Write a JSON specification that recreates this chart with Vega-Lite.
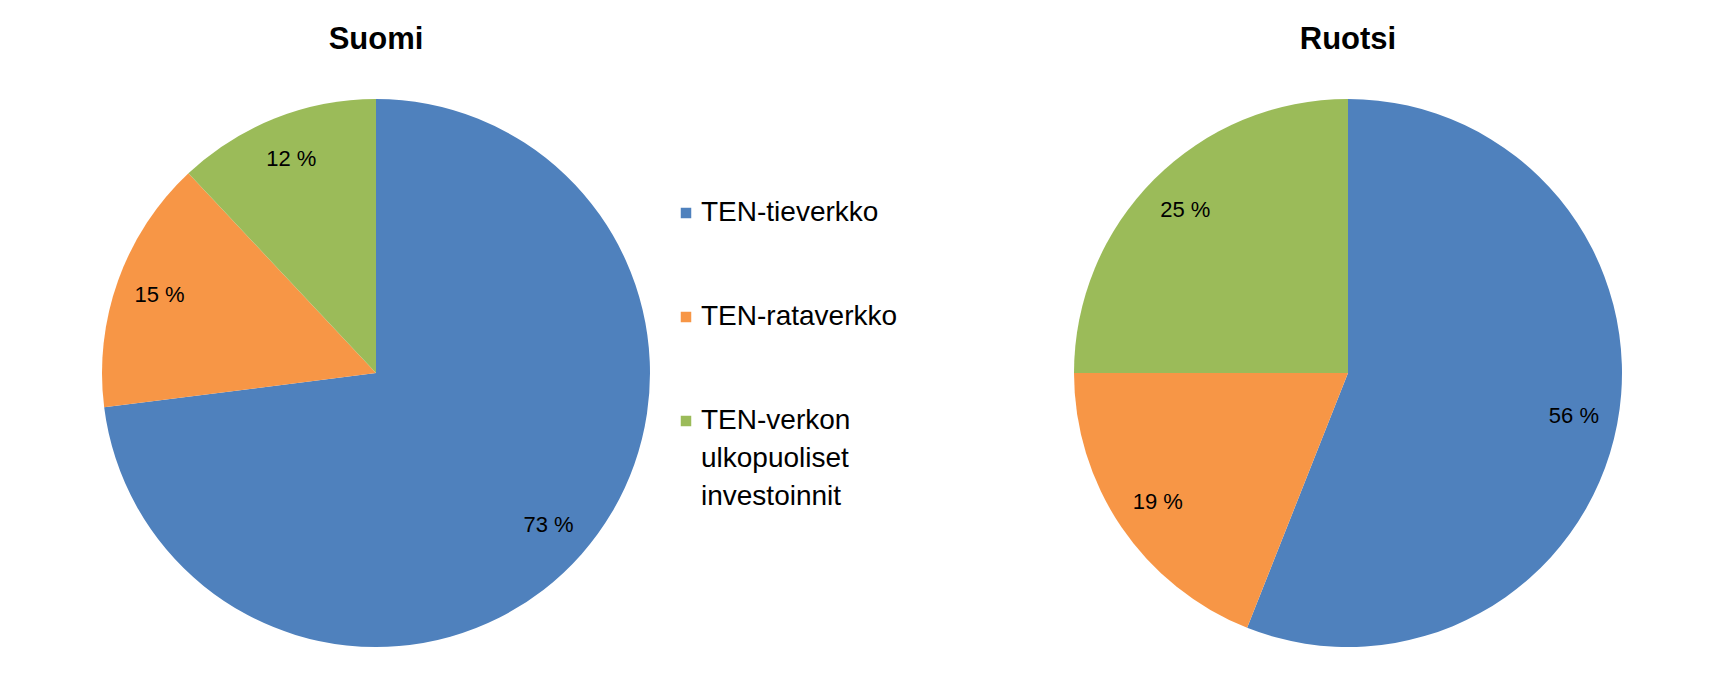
{
  "$schema": "https://vega.github.io/schema/vega-lite/v6.json",
  "padding": {"left": 0, "top": 24, "right": 0, "bottom": 0},
  "autosize": {"type": "pad"},
  "background": "white",
  "data": {
    "values": [
      {"country": "Suomi", "category": "TEN-tieverkko", "order": 1, "value": 73, "label": "73 %"},
      {"country": "Suomi", "category": "TEN-rataverkko", "order": 2, "value": 15, "label": "15 %"},
      {"country": "Suomi", "category": "TEN-verkon ulkopuoliset investoinnit", "order": 3, "value": 12, "label": "12 %"},
      {"country": "Ruotsi", "category": "TEN-tieverkko", "order": 1, "value": 56, "label": "56 %"},
      {"country": "Ruotsi", "category": "TEN-rataverkko", "order": 2, "value": 19, "label": "19 %"},
      {"country": "Ruotsi", "category": "TEN-verkon ulkopuoliset investoinnit", "order": 3, "value": 25, "label": "25 %"}
    ]
  },
  "facet": {
    "column": {
      "field": "country",
      "type": "nominal",
      "sort": ["Suomi", "Ruotsi"],
      "header": {
        "title": null,
        "labelFontSize": 31,
        "labelFontWeight": "bold",
        "labelFont": "Liberation Sans",
        "labelColor": "#000000",
        "labelPadding": 8
      }
    }
  },
  "spacing": 220,
  "spec": {
    "width": 752,
    "height": 618,
    "layer": [
      {
        "mark": {"type": "arc", "radius": 274},
        "encoding": {
          "theta": {"field": "value", "type": "quantitative", "stack": true},
          "order": {"field": "order", "type": "quantitative"},
          "color": {
            "field": "category",
            "type": "nominal",
            "scale": {
              "domain": ["TEN-tieverkko", "TEN-rataverkko", "TEN-verkon ulkopuoliset investoinnit"],
              "range": ["#4F81BD", "#F79646", "#9BBB59"]
            },
            "legend": {
              "title": null,
              "orient": "none",
              "legendX": 672,
              "legendY": 135,
              "symbolType": "square",
              "symbolSize": 110,
              "symbolStrokeWidth": 0,
              "labelFont": "Liberation Sans",
              "labelFontSize": 28,
              "labelColor": "#000000",
              "labelLimit": 400,
              "labelOffset": 1,
              "rowPadding": 76,
              "labelExpr": "datum.label == 'TEN-verkon ulkopuoliset investoinnit' ? ['TEN-verkon', 'ulkopuoliset', 'investoinnit'] : datum.label"
            }
          }
        }
      },
      {
        "mark": {"type": "text", "radius": 230, "font": "Liberation Sans", "fontSize": 22, "color": "#000000"},
        "encoding": {
          "theta": {"field": "value", "type": "quantitative", "stack": true},
          "order": {"field": "order", "type": "quantitative"},
          "text": {"field": "label"}
        }
      }
    ]
  },
  "config": {
    "view": {"stroke": null},
    "style": {"guide-label": {"lineHeight": 38}}
  }
}
